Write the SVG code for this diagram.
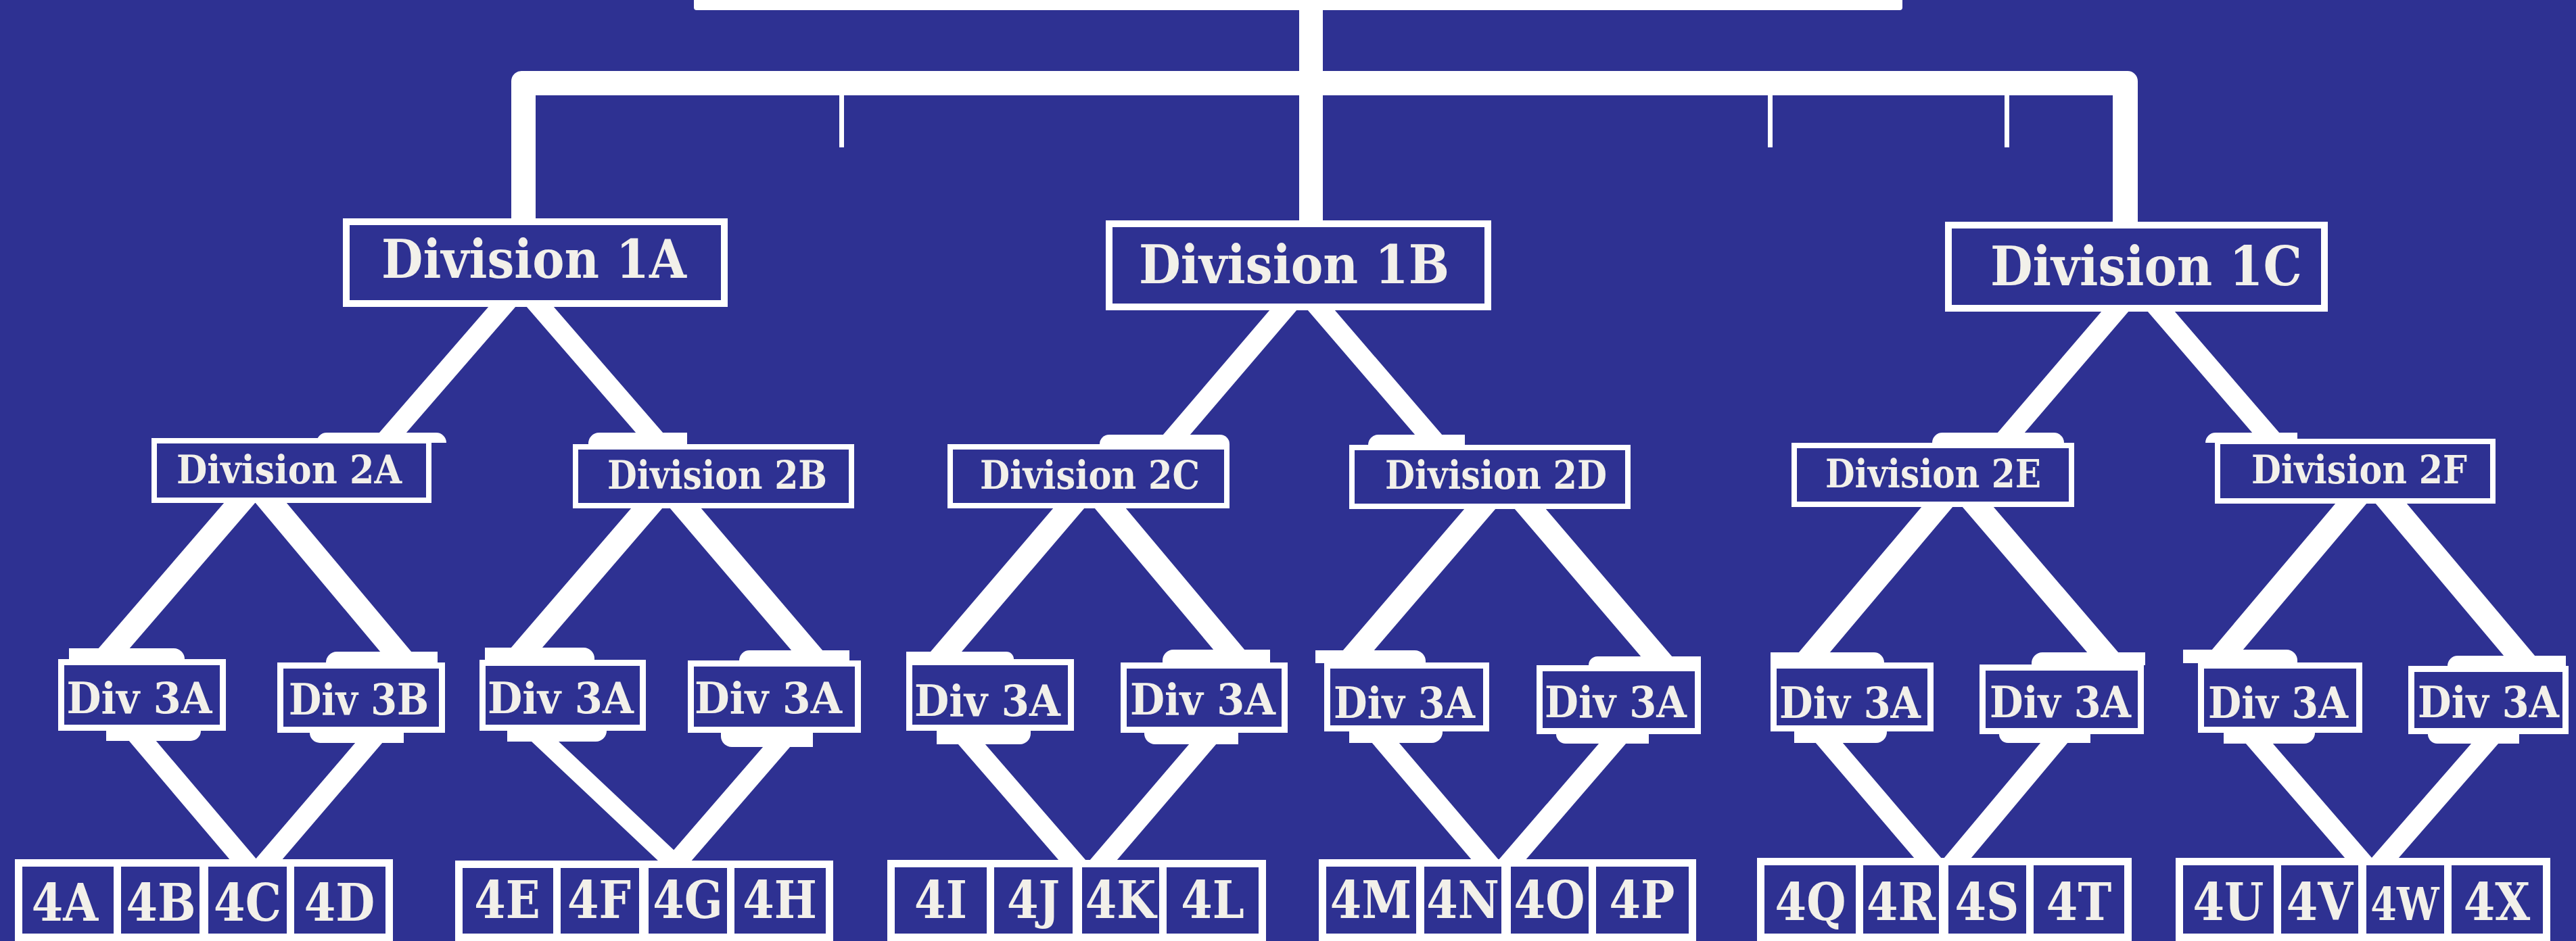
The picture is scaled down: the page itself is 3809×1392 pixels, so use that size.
<svg xmlns="http://www.w3.org/2000/svg" width="3809" height="1392" viewBox="0 0 3809 1392">
<style>
.bg{fill:#2E3192}
.w{fill:#FFFFFF}
.b1{fill:#2E3192;stroke:#FFFFFF;stroke-width:10}
.b2{fill:#2E3192;stroke:#FFFFFF;stroke-width:8}
.b3{fill:#2E3192;stroke:#FFFFFF;stroke-width:9}
.b4{fill:#2E3192;stroke:#FFFFFF;stroke-width:11}
text{font-family:"DejaVu Serif","Liberation Serif",serif;font-weight:bold;fill:#F2F0EA;text-anchor:middle}
.t1{font-size:78px}
.t2{font-size:58px}
.t3{font-size:64px}
.t4{font-size:76px}
</style>
<rect class="bg" x="0" y="0" width="3809" height="1392"/>

<g id="connectors" class="w">
  <rect x="1921" y="0" width="35" height="327"/>
  <path d="M756,323 V120 A15,15 0 0 1 771,105 H3146 A15,15 0 0 1 3161,120 V329 H3124 V141 H792 V323 Z"/>
  <rect x="1241" y="140" width="7" height="78"/>
  <rect x="2614" y="140" width="7" height="78"/>
  <rect x="2964" y="140" width="7" height="78"/>
  <polygon points="723,453 763,453 600,641 560,641"/>
  <polygon points="778,453 818,453 981,641 941,641"/>
  <polygon points="1878,458 1918,458 1759,644 1719,644"/>
  <polygon points="1933,458 1973,458 2133,644 2093,644"/>
  <polygon points="3108,460 3148,460 2993,641 2953,641"/>
  <polygon points="3175,460 3215,460 3371,641 3331,641"/>
  <path d="M468,655 A15,15 0 0 1 483,640 H645 A15,15 0 0 1 660,655 Z"/>
  <path d="M870,657 A16,16 0 0 1 886,640 H1016 V657 Z"/>
  <path d="M1626,657 A14,14 0 0 1 1640,643 H1804 A14,14 0 0 1 1818,657 Z"/>
  <path d="M2023,658 A15,15 0 0 1 2038,643 H2166 V658 Z"/>
  <path d="M2857,655 A15,15 0 0 1 2872,640 H3037 A15,15 0 0 1 3052,655 Z"/>
  <path d="M3261,655 A15,15 0 0 1 3276,640 H3397 V655 Z"/>
  <polygon points="332,743 378,743 190,961 144,961"/>
  <polygon points="377,743 423,743 609,965 563,965"/>
  <polygon points="934,751 980,751 801,959 755,959"/>
  <polygon points="990,751 1036,751 1217,963 1171,963"/>
  <polygon points="1558,751 1604,751 1422,964 1376,964"/>
  <polygon points="1618,751 1664,751 1841,962 1795,962"/>
  <polygon points="2166,752 2212,752 2031,963 1985,963"/>
  <polygon points="2239,752 2285,752 2473,972 2427,972"/>
  <polygon points="2842,749 2888,749 2705,966 2659,966"/>
  <polygon points="2901,749 2947,749 3133,966 3087,966"/>
  <polygon points="3454,744 3500,744 3316,962 3270,962"/>
  <polygon points="3512,744 3558,744 3749,971 3703,971"/>
  <path d="M102,976 V959 H257 A16,16 0 0 1 273,975 V976 Z"/>
  <path d="M482,981 V980 A16,16 0 0 1 498,964 H647 V981 Z"/>
  <path d="M717,977 V958 H863 A16,16 0 0 1 879,974 V977 Z"/>
  <path d="M1093,978 V977 A15,15 0 0 1 1108,962 H1256 V978 Z"/>
  <path d="M1340,976 V964 H1488 A11,11 0 0 1 1499,975 V976 Z"/>
  <path d="M1719,981 V977 A16,16 0 0 1 1735,961 H1878 V981 Z"/>
  <path d="M1945,981 V962 H2092 A16,16 0 0 1 2108,978 V981 Z"/>
  <path d="M2349,985 V984 A13,13 0 0 1 2362,971 H2515 V985 Z"/>
  <path d="M2618,981 V965 H2771 A15,15 0 0 1 2786,980 V981 Z"/>
  <path d="M3004,984 V981 A16,16 0 0 1 3020,965 H3172 V984 Z"/>
  <path d="M3228,981 V961 H3381 A16,16 0 0 1 3397,977 V981 Z"/>
  <path d="M3619,986 V985 A15,15 0 0 1 3634,970 H3794 V986 Z"/>
  <path d="M157,1080 H297 V1081 A15,15 0 0 1 282,1096 H157 Z"/>
  <path d="M458,1083 H597 V1099 H473 A15,15 0 0 1 458,1084 Z"/>
  <path d="M750,1080 H897 V1081 A16,16 0 0 1 881,1097 H750 Z"/>
  <path d="M1066,1083 H1202 V1105 H1082 A16,16 0 0 1 1066,1089 Z"/>
  <path d="M1385,1080 H1524 V1085 A16,16 0 0 1 1508,1101 H1385 Z"/>
  <path d="M1692,1083 H1831 V1101 H1708 A16,16 0 0 1 1692,1085 Z"/>
  <path d="M1995,1081 H2133 V1083 A16,16 0 0 1 2117,1099 H1995 Z"/>
  <path d="M2301,1085 H2438 V1100 H2315 A14,14 0 0 1 2301,1086 Z"/>
  <path d="M2653,1081 H2790 V1083 A16,16 0 0 1 2774,1099 H2653 Z"/>
  <path d="M2956,1085 H3091 V1099 H2969 A13,13 0 0 1 2956,1086 Z"/>
  <path d="M3288,1083 H3423 V1084 A16,16 0 0 1 3407,1100 H3288 Z"/>
  <path d="M3590,1085 H3725 V1100 H3604 A14,14 0 0 1 3590,1086 Z"/>
  <polygon points="190,1095 230,1095 381,1273 341,1273"/>
  <polygon points="526,1098 566,1098 416,1273 376,1273"/>
  <polygon points="785,1096 825,1096 1015,1275 975,1275"/>
  <polygon points="1129,1104 1169,1104 1021,1275 981,1275"/>
  <polygon points="1416,1100 1456,1100 1606,1273 1566,1273"/>
  <polygon points="1759,1100 1799,1100 1651,1273 1611,1273"/>
  <polygon points="2028,1098 2068,1098 2217,1273 2177,1273"/>
  <polygon points="2365,1099 2405,1099 2255,1273 2215,1273"/>
  <polygon points="2684,1098 2724,1098 2871,1270 2831,1270"/>
  <polygon points="3018,1098 3058,1098 2914,1270 2874,1270"/>
  <polygon points="3320,1099 3360,1099 3508,1270 3468,1270"/>
  <polygon points="3655,1099 3695,1099 3546,1270 3506,1270"/>
</g>

<g id="root"><rect class="w" x="1026" y="-20" width="1787" height="35" rx="4"/></g>

<g id="div1A"><rect class="b1" x="512" y="328" width="559" height="121"/><text class="t1" x="789.5" y="411" textLength="451" lengthAdjust="spacingAndGlyphs">Division 1A</text></g>
<g id="div1B"><rect class="b1" x="1640" y="331" width="560" height="123"/><text class="t1" x="1913.5" y="419" textLength="459" lengthAdjust="spacingAndGlyphs">Division 1B</text></g>
<g id="div1C"><rect class="b1" x="2881" y="333" width="556" height="123"/><text class="t1" x="3173.5" y="422" style="font-size:81px" textLength="461" lengthAdjust="spacingAndGlyphs">Division 1C</text></g>

<g id="div2A"><rect class="b2" x="228" y="652" width="406" height="88"/><text class="t2" x="427.5" y="715" textLength="333" lengthAdjust="spacingAndGlyphs">Division 2A</text></g>
<g id="div2B"><rect class="b2" x="851" y="661" width="408" height="87"/><text class="t2" x="1060.5" y="723" textLength="325" lengthAdjust="spacingAndGlyphs">Division 2B</text></g>
<g id="div2C"><rect class="b2" x="1405" y="661" width="409" height="87"/><text class="t2" x="1611.5" y="723" textLength="325" lengthAdjust="spacingAndGlyphs">Division 2C</text></g>
<g id="div2D"><rect class="b2" x="1999" y="662" width="408" height="87"/><text class="t2" x="2212" y="723" textLength="328" lengthAdjust="spacingAndGlyphs">Division 2D</text></g>
<g id="div2E"><rect class="b2" x="2653" y="659" width="410" height="87"/><text class="t2" x="2858.5" y="721" textLength="319" lengthAdjust="spacingAndGlyphs">Division 2E</text></g>
<g id="div2F"><rect class="b2" x="3279" y="653" width="407" height="88"/><text class="t2" x="3488.5" y="715" textLength="319" lengthAdjust="spacingAndGlyphs">Division 2F</text></g>

<g id="div3-1"><rect class="b3" x="90.5" y="979.5" width="239" height="97"/><text class="t3" x="206" y="1055" textLength="215" lengthAdjust="spacingAndGlyphs">Div 3A</text></g>
<g id="div3-2"><rect class="b3" x="414.5" y="984.5" width="239" height="95"/><text class="t3" x="530.5" y="1057" textLength="207" lengthAdjust="spacingAndGlyphs">Div 3B</text></g>
<g id="div3-3"><rect class="b3" x="713.5" y="980.5" width="237" height="96"/><text class="t3" x="829" y="1055" textLength="216" lengthAdjust="spacingAndGlyphs">Div 3A</text></g>
<g id="div3-4"><rect class="b3" x="1021.5" y="981.5" width="247" height="98"/><text class="t3" x="1136" y="1055" textLength="218" lengthAdjust="spacingAndGlyphs">Div 3A</text></g>
<g id="div3-5"><rect class="b3" x="1344.5" y="979.5" width="239" height="97"/><text class="t3" x="1460" y="1059" textLength="216" lengthAdjust="spacingAndGlyphs">Div 3A</text></g>
<g id="div3-6"><rect class="b3" x="1661.5" y="984.5" width="238" height="95"/><text class="t3" x="1778.5" y="1057" textLength="215" lengthAdjust="spacingAndGlyphs">Div 3A</text></g>
<g id="div3-7"><rect class="b3" x="1962.5" y="984.5" width="235" height="93"/><text class="t3" x="2076.5" y="1062" textLength="209" lengthAdjust="spacingAndGlyphs">Div 3A</text></g>
<g id="div3-8"><rect class="b3" x="2276.5" y="988.5" width="234" height="93"/><text class="t3" x="2389" y="1061" textLength="210" lengthAdjust="spacingAndGlyphs">Div 3A</text></g>
<g id="div3-9"><rect class="b3" x="2622.5" y="984.5" width="232" height="93"/><text class="t3" x="2735.5" y="1062" textLength="209" lengthAdjust="spacingAndGlyphs">Div 3A</text></g>
<g id="div3-10"><rect class="b3" x="2931.5" y="987.5" width="234" height="94"/><text class="t3" x="3046.5" y="1061" textLength="209" lengthAdjust="spacingAndGlyphs">Div 3A</text></g>
<g id="div3-11"><rect class="b3" x="3254.5" y="984.5" width="234" height="95"/><text class="t3" x="3368.5" y="1062" textLength="207" lengthAdjust="spacingAndGlyphs">Div 3A</text></g>
<g id="div3-12"><rect class="b3" x="3565.5" y="989.5" width="228" height="92"/><text class="t3" x="3679.5" y="1061" textLength="209" lengthAdjust="spacingAndGlyphs">Div 3A</text></g>

<g id="n4A"><rect class="b4" x="27.5" y="1276.5" width="146" height="110"/><text class="t4" transform="translate(96 1362) scale(0.88 1)">4A</text></g>
<g id="n4B"><rect class="b4" x="173.5" y="1276.5" width="127" height="110"/><text class="t4" transform="translate(238 1362) scale(0.88 1)">4B</text></g>
<g id="n4C"><rect class="b4" x="302.5" y="1276.5" width="127" height="110"/><text class="t4" transform="translate(366 1362) scale(0.88 1)">4C</text></g>
<g id="n4D"><rect class="b4" x="429.5" y="1276.5" width="146" height="110"/><text class="t4" transform="translate(502 1362) scale(0.88 1)">4D</text></g>

<g id="n4E"><rect class="b4" x="678.5" y="1278.5" width="146" height="108"/><text class="t4" transform="translate(750 1358) scale(0.88 1)">4E</text></g>
<g id="n4F"><rect class="b4" x="823.5" y="1278.5" width="127" height="108"/><text class="t4" transform="translate(886 1358) scale(0.88 1)">4F</text></g>
<g id="n4G"><rect class="b4" x="953.5" y="1278.5" width="127" height="108"/><text class="t4" transform="translate(1017 1358) scale(0.88 1)">4G</text></g>
<g id="n4H"><rect class="b4" x="1080.5" y="1278.5" width="146" height="108"/><text class="t4" transform="translate(1153 1358) scale(0.88 1)">4H</text></g>

<g id="n4I"><rect class="b4" x="1317.5" y="1277.5" width="147" height="109"/><text class="t4" transform="translate(1391 1358) scale(0.88 1)">4I</text></g>
<g id="n4J"><rect class="b4" x="1464.5" y="1277.5" width="127" height="109"/><text class="t4" transform="translate(1528 1358) scale(0.88 1)">4J</text></g>
<g id="n4K"><rect class="b4" x="1594.5" y="1277.5" width="126" height="109"/><text class="t4" transform="translate(1657 1358) scale(0.88 1)">4K</text></g>
<g id="n4L"><rect class="b4" x="1719.5" y="1277.5" width="147" height="109"/><text class="t4" transform="translate(1793 1358) scale(0.88 1)">4L</text></g>

<g id="n4M"><rect class="b4" x="1955.5" y="1276.5" width="144" height="110"/><text class="t4" transform="translate(2027 1358) scale(0.88 1)">4M</text></g>
<g id="n4N"><rect class="b4" x="2100.5" y="1276.5" width="125" height="110"/><text class="t4" transform="translate(2163 1358) scale(0.88 1)">4N</text></g>
<g id="n4O"><rect class="b4" x="2228.5" y="1276.5" width="126" height="110"/><text class="t4" transform="translate(2291 1358) scale(0.88 1)">4O</text></g>
<g id="n4P"><rect class="b4" x="2354.5" y="1276.5" width="148" height="110"/><text class="t4" transform="translate(2428 1358) scale(0.88 1)">4P</text></g>

<g id="n4Q"><rect class="b4" x="2603.5" y="1274.5" width="147" height="112"/><text class="t4" transform="translate(2677 1361) scale(0.88 1)">4Q</text></g>
<g id="n4R"><rect class="b4" x="2749.5" y="1274.5" width="123" height="112"/><text class="t4" transform="translate(2811 1361) scale(0.88 1)">4R</text></g>
<g id="n4S"><rect class="b4" x="2875.5" y="1274.5" width="126" height="112"/><text class="t4" transform="translate(2938 1361) scale(0.88 1)">4S</text></g>
<g id="n4T"><rect class="b4" x="3001.5" y="1274.5" width="145" height="112"/><text class="t4" transform="translate(3074 1361) scale(0.88 1)">4T</text></g>

<g id="n4U"><rect class="b4" x="3222.5" y="1274.5" width="145" height="112"/><text class="t4" transform="translate(3295 1361) scale(0.88 1)">4U</text></g>
<g id="n4V"><rect class="b4" x="3367.5" y="1274.5" width="125" height="112"/><text class="t4" transform="translate(3430 1361) scale(0.88 1)">4V</text></g>
<g id="n4W"><rect class="b4" x="3493.5" y="1274.5" width="126" height="112"/><text class="t4" style="font-size:68px" transform="translate(3556 1361) scale(0.82 1)">4W</text></g>
<g id="n4X"><rect class="b4" x="3619.5" y="1274.5" width="146" height="112"/><text class="t4" transform="translate(3692 1361) scale(0.88 1)">4X</text></g>
</svg>
